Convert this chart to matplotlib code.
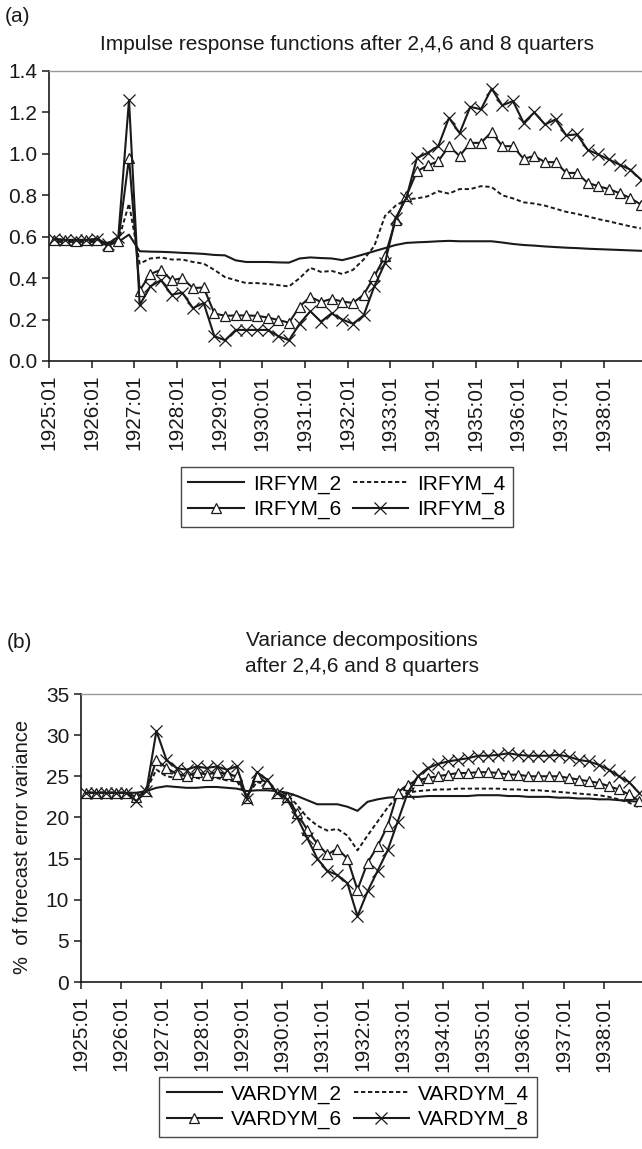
import numpy as np
import matplotlib
matplotlib.use("Agg")
import matplotlib.pyplot as plt

plt.rcParams['font.family'] = ['Liberation Sans', 'DejaVu Sans']
plt.rcParams['font.size'] = 15

# quarterly categories 1925:01 .. 1938:04
years = list(range(1925, 1939))
tick_labels = [f"{y}:01" for y in years]

# panel (a): impulse responses
irfym_2 = [0.575, 0.575, 0.575, 0.575, 0.575, 0.57, 0.575, 0.61, 0.53, 0.528,
           0.527, 0.525, 0.522, 0.52, 0.517, 0.512, 0.51, 0.486, 0.478, 0.478,
           0.478, 0.476, 0.475, 0.495, 0.50, 0.497, 0.495, 0.487, 0.50, 0.515,
           0.53, 0.545, 0.56, 0.57, 0.573, 0.575, 0.578, 0.58, 0.578, 0.578,
           0.578, 0.578, 0.572, 0.565, 0.56, 0.557, 0.553, 0.55, 0.547, 0.545,
           0.542, 0.54, 0.538, 0.536, 0.534, 0.532]
irfym_4 = [0.58, 0.58, 0.58, 0.58, 0.58, 0.565, 0.58, 0.76, 0.47, 0.495,
           0.50, 0.49, 0.49, 0.478, 0.47, 0.44, 0.405, 0.39, 0.376, 0.376,
           0.372, 0.366, 0.36, 0.40, 0.45, 0.43, 0.435, 0.42, 0.44, 0.49,
           0.555, 0.70, 0.75, 0.78, 0.785, 0.795, 0.82, 0.808, 0.83, 0.83,
           0.844, 0.84, 0.80, 0.785, 0.766, 0.76, 0.75, 0.735, 0.72, 0.71,
           0.698, 0.685, 0.674, 0.662, 0.65, 0.64]
irfym_6 = [0.585, 0.585, 0.58, 0.585, 0.585, 0.555, 0.58, 0.98, 0.34, 0.42,
           0.44, 0.39, 0.40, 0.352, 0.355, 0.23, 0.218, 0.22, 0.22, 0.218,
           0.21, 0.198, 0.185, 0.263, 0.31, 0.285, 0.30, 0.287, 0.28, 0.32,
           0.408, 0.505, 0.68, 0.795, 0.916, 0.944, 0.965, 1.037, 0.99, 1.053,
           1.053, 1.106, 1.037, 1.037, 0.976, 0.99, 0.96, 0.96, 0.908, 0.908,
           0.86, 0.844, 0.83, 0.81, 0.787, 0.755]
irfym_8 = [0.59, 0.585, 0.585, 0.585, 0.59, 0.565, 0.60, 1.26, 0.27, 0.36,
           0.39, 0.32, 0.33, 0.255, 0.28, 0.12, 0.10, 0.15, 0.15, 0.15,
           0.15, 0.12, 0.10, 0.18, 0.24, 0.19, 0.23, 0.20, 0.18, 0.22,
           0.36, 0.473, 0.69, 0.787, 0.98, 1.005, 1.037, 1.174, 1.10, 1.227,
           1.215, 1.315, 1.234, 1.255, 1.15, 1.20, 1.142, 1.166, 1.089, 1.094,
           1.02, 0.997, 0.973, 0.948, 0.924, 0.876]

# panel (b): variance decompositions
vardym_2 = [23.0, 23.0, 23.0, 23.0, 23.0, 23.0, 23.2, 23.6, 23.8, 23.7,
            23.6, 23.6, 23.7, 23.7, 23.6, 23.5, 23.2, 23.3, 23.3, 23.2,
            23.0, 22.6, 22.1, 21.6, 21.6, 21.6, 21.3, 20.8, 21.9, 22.2,
            22.4, 22.5, 22.5, 22.5, 22.6, 22.6, 22.6, 22.6, 22.6, 22.7,
            22.7, 22.7, 22.6, 22.6, 22.5, 22.5, 22.5, 22.4, 22.4, 22.3,
            22.3, 22.2, 22.2, 22.1, 22.0, 21.9]
vardym_4 = [23.0, 23.0, 23.0, 23.0, 23.0, 22.8, 23.3, 25.8, 25.0, 24.8,
            24.6, 24.8, 24.6, 24.8, 24.5, 24.4, 22.6, 24.3, 24.0, 23.2,
            22.8, 21.5, 20.0, 19.0, 18.4, 18.6, 17.8, 16.0, 17.8, 19.5,
            21.2, 22.6, 23.0, 23.2, 23.3, 23.4, 23.4, 23.5, 23.5, 23.5,
            23.5, 23.5, 23.4, 23.4, 23.3, 23.3, 23.2, 23.1, 23.0, 22.9,
            22.8, 22.7, 22.5, 22.2, 21.8, 21.2]
vardym_6 = [23.0, 23.0, 23.0, 23.0, 23.0, 22.5, 23.2, 27.0, 26.0, 25.3,
            25.0, 25.5, 25.2, 25.5, 25.3, 25.0, 22.4, 25.0, 24.2, 23.0,
            22.5, 20.5, 18.5, 16.8, 15.5, 16.2, 15.0, 11.2, 14.5, 16.5,
            19.0, 23.0, 24.0, 24.5, 24.8, 25.0, 25.2, 25.4, 25.4, 25.5,
            25.5, 25.4, 25.2, 25.2, 25.0, 25.0, 25.0, 25.0, 24.8, 24.6,
            24.4, 24.2, 23.8, 23.4, 22.8, 22.0]
vardym_8 = [23.0, 23.0, 23.0, 23.0, 23.0, 22.0, 23.2, 30.5, 27.0, 26.0,
            25.8, 26.2, 26.0, 26.2, 25.8, 26.2, 22.3, 25.5, 24.6, 23.0,
            22.2, 20.0, 17.5, 15.0, 13.5, 13.0, 12.0, 8.0, 11.0, 13.5,
            16.0, 19.5, 23.0, 25.0, 26.0, 26.5, 26.8, 27.0, 27.2, 27.5,
            27.5, 27.6, 27.8, 27.6, 27.5, 27.5, 27.5, 27.6, 27.4, 27.0,
            26.8, 26.4, 25.8, 25.0, 24.3, 23.0]

n = len(irfym_2)
x = np.arange(n) + 0.5
ink = '#1a1a1a'

fig = plt.figure(figsize=(6.42, 11.49), dpi=100)


def style_axes(ax, xmax):
    ax.set_xlim(0, xmax)
    ax.set_xticks(np.arange(0, n, 4))
    ax.set_xticklabels(tick_labels, rotation=90, va='top', ha='center')
    ax.spines['right'].set_visible(False)
    ax.spines['top'].set_color('#999999')
    ax.spines['top'].set_linewidth(1.0)
    for s in ('left', 'bottom'):
        ax.spines[s].set_color(ink)
        ax.spines[s].set_linewidth(1.2)
    ax.tick_params(axis='both', direction='out', length=5, width=1.1,
                   color=ink, labelcolor=ink, labelsize=15)
    ax.tick_params(axis='x', pad=5)


def draw_lines(ax, s2, s4, s6, s8, names):
    ax.plot(x, s2, color=ink, lw=1.5, label=names[0])
    ax.plot(x, s4, color=ink, lw=1.4, ls=(0, (2.2, 1.4)), label=names[1])
    ax.plot(x, s6, color=ink, lw=1.5, marker='^', ms=7, mfc='white',
            mec=ink, mew=0.9, label=names[2])
    ax.plot(x, s8, color=ink, lw=1.5, marker='x', ms=9, mec=ink,
            mew=0.9, label=names[3])


def add_legend(ax, cx, cy):
    h, l = ax.get_legend_handles_labels()
    # row-wise order: 2, 4 / 6, 8
    order = [0, 2, 1, 3]
    leg = fig.legend([h[k] for k in order], [l[k] for k in order],
                     loc='center', bbox_to_anchor=(cx, cy), ncol=2,
                     frameon=True, fancybox=False, edgecolor=ink,
                     fontsize=15, handlelength=2.65, columnspacing=0.55,
                     handletextpad=0.45, labelspacing=0.3, borderpad=0.35,
                     borderaxespad=0)
    leg.get_frame().set_linewidth(1.0)


# panel (a)
ax1 = fig.add_axes([49 / 642, 1 - 361 / 1149, 593 / 642, 290 / 1149])
draw_lines(ax1, irfym_2, irfym_4, irfym_6, irfym_8,
           ['IRFYM_2', 'IRFYM_4', 'IRFYM_6', 'IRFYM_8'])
ax1.set_ylim(0, 1.4)
ax1.set_yticks(np.arange(0, 1.41, 0.2))
ax1.set_yticklabels([f"{v:.1f}" for v in np.arange(0, 1.41, 0.2)])
style_axes(ax1, 55.6)
add_legend(ax1, 347 / 642, 1 - 497 / 1149)
fig.text(5 / 642, 1 - 17 / 1149, '(a)', ha='left', va='center', color=ink)
fig.text(347 / 642, 1 - 44 / 1149,
         'Impulse response functions after 2,4,6 and 8 quarters',
         ha='center', va='center', color=ink)

# panel (b)
ax2 = fig.add_axes([81 / 642, 1 - 982 / 1149, 561 / 642, 288 / 1149])
draw_lines(ax2, vardym_2, vardym_4, vardym_6, vardym_8,
           ['VARDYM_2', 'VARDYM_4', 'VARDYM_6', 'VARDYM_8'])
ax2.set_ylim(0, 35)
ax2.set_yticks(np.arange(0, 36, 5))
style_axes(ax2, 55.8)
ax2.set_ylabel('%  of forecast error variance', color=ink, fontsize=14.5)
ax2.yaxis.set_label_coords(-0.088, 0.47)
add_legend(ax2, 348 / 642, 1 - 1107 / 1149)
fig.text(7 / 642, 1 - 643 / 1149, '(b)', ha='left', va='center', color=ink)
fig.text(362 / 642, 1 - 640 / 1149, 'Variance decompositions',
         ha='center', va='center', color=ink)
fig.text(362 / 642, 1 - 667 / 1149, 'after 2,4,6 and 8 quarters',
         ha='center', va='center', color=ink)

fig.savefig('out.png', dpi=100)
